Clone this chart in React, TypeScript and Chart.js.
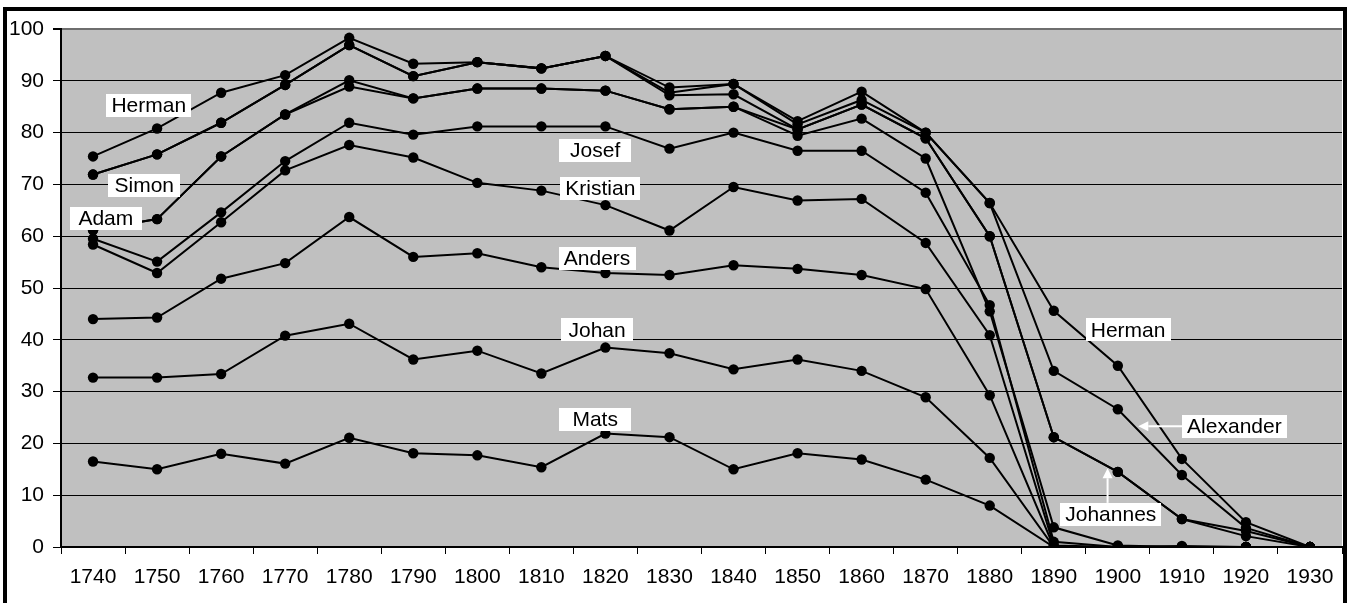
import React, { useEffect, useRef } from 'react';
import { Chart, registerables } from 'chart.js';

Chart.register(...registerables);

const FONT = '"Liberation Sans", Arial, Helvetica, sans-serif';

const years = ['1740', '1750', '1760', '1770', '1780', '1790', '1800', '1810', '1820', '1830', '1840', '1850', '1860', '1870', '1880', '1890', '1900', '1910', '1920', '1930'];

const herman = [75.4, 80.8, 87.7, 91.1, 98.3, 93.3, 93.6, 92.4, 94.8, 88.7, 89.4, 82.2, 87.9, 80.0, 66.4, 45.6, 35.0, 17.0, 4.8, 0];
const alexander = [71.9, 75.8, 81.9, 89.2, 96.9, 90.9, 93.6, 92.4, 94.8, 87.7, 89.4, 81.6, 86.3, 80.0, 66.4, 34.0, 26.6, 13.9, 3.7, 0];
const simon = [71.9, 75.8, 81.9, 89.2, 96.9, 90.9, 93.6, 92.4, 94.8, 87.2, 87.4, 80.6, 85.4, 78.9, 60.0, 21.2, 14.5, 5.4, 2.1, 0];
const johannes = [61.2, 63.3, 75.4, 83.5, 90.1, 86.6, 88.5, 88.5, 88.1, 84.5, 85.0, 80.6, 85.4, 78.9, 60.0, 21.2, 14.5, 5.4, 3.1, 0];
const adam = [61.2, 63.3, 75.4, 83.5, 88.9, 86.6, 88.5, 88.5, 88.1, 84.5, 85.0, 79.4, 82.7, 75.0, 45.5, 3.8, 0.3, 0, 0, 0];
const josef = [59.5, 55.1, 64.6, 74.5, 81.9, 79.6, 81.2, 81.2, 81.2, 76.9, 80.0, 76.5, 76.5, 68.4, 46.7, 1.0, 0, 0.2, 0, 0];
const kristian = [58.4, 52.9, 62.7, 72.7, 77.6, 75.2, 70.3, 68.8, 66.0, 61.1, 69.5, 66.9, 67.2, 58.7, 40.9, 0.3, 0, 0, 0, 0];
const anders = [44.0, 44.3, 51.8, 54.8, 63.7, 56.0, 56.7, 54.0, 52.9, 52.5, 54.4, 53.7, 52.5, 49.8, 29.3, 0, 0, 0, 0, 0];
const johan = [32.7, 32.7, 33.4, 40.8, 43.1, 36.2, 37.9, 33.5, 38.5, 37.4, 34.3, 36.2, 34.0, 28.9, 17.2, 0, 0, 0, 0, 0];
const mats = [16.5, 15.0, 18.0, 16.1, 21.1, 18.1, 17.7, 15.4, 21.9, 21.2, 15.0, 18.1, 16.9, 13.0, 8.0, 0, 0, 0, 0, 0];

const seriesNames = ['Herman', 'Alexander', 'Simon', 'Johannes', 'Adam', 'Josef', 'Kristian', 'Anders', 'Johan', 'Mats'];
const seriesValues = [herman, alexander, simon, johannes, adam, josef, kristian, anders, johan, mats];

// Label annotations: text, category index position, value position
const labelTexts = ['Herman', 'Simon', 'Adam', 'Josef', 'Kristian', 'Anders', 'Johan', 'Mats', 'Herman', 'Alexander', 'Johannes'];
const labelIdx = [0.87, 0.80, 0.20, 7.84, 7.92, 7.87, 7.87, 7.84, 16.16, 17.82, 15.89];
const labelVal = [85.3, 69.8, 63.5, 76.6, 69.3, 55.7, 41.9, 24.7, 41.9, 23.3, 6.3];

// Arrows: from label (index in label list) to tip at (index, value)
const arrowFrom = [9, 10];
const arrowTipIdx = [16.32, 15.84];
const arrowTipVal = [23.3, 15.2];

const plotBg = {
  id: 'plotBg',
  beforeDraw(chart: any) {
    const { ctx, chartArea: a } = chart;
    ctx.save();
    ctx.fillStyle = '#C0C0C0';
    ctx.fillRect(a.left, a.top, a.right - a.left, a.bottom - a.top);
    ctx.restore();
  },
};

const labelsPlugin = {
  id: 'labelsPlugin',
  afterDatasetsDraw(chart: any) {
    const { ctx } = chart;
    const xs = chart.scales.x;
    const ys = chart.scales.y;
    ctx.save();
    ctx.font = `21px ${FONT}`;
    ctx.textAlign = 'center';
    ctx.textBaseline = 'middle';
    const boxes: any[] = [];
    labelTexts.forEach((t, i) => {
      const cx = xs.getPixelForValue(labelIdx[i]);
      const cy = ys.getPixelForValue(labelVal[i]);
      const w = Math.max(72, ctx.measureText(t).width + 10);
      const h = 23;
      ctx.fillStyle = '#FFFFFF';
      ctx.fillRect(Math.round(cx - w / 2), Math.round(cy - h / 2), Math.round(w), h);
      ctx.fillStyle = '#000000';
      ctx.fillText(t, cx, cy + 1);
      boxes.push({ cx, cy, w, h });
    });
    // arrows
    ctx.strokeStyle = '#FFFFFF';
    ctx.fillStyle = '#FFFFFF';
    ctx.lineWidth = 2;
    arrowFrom.forEach((bi, k) => {
      const b = boxes[bi];
      const tx = xs.getPixelForValue(arrowTipIdx[k]);
      const ty = ys.getPixelForValue(arrowTipVal[k]);
      let sx, sy;
      if (Math.abs(ty - b.cy) < 5) {
        sx = b.cx - b.w / 2;
        sy = ty;
      } else {
        sx = tx;
        sy = b.cy - b.h / 2;
      }
      const ang = Math.atan2(ty - sy, tx - sx);
      const L = 10, W = 5;
      const bx = tx - L * Math.cos(ang);
      const by = ty - L * Math.sin(ang);
      ctx.beginPath();
      ctx.moveTo(sx, sy);
      ctx.lineTo(bx, by);
      ctx.stroke();
      ctx.beginPath();
      ctx.moveTo(tx, ty);
      ctx.lineTo(bx + W * Math.sin(ang), by - W * Math.cos(ang));
      ctx.lineTo(bx - W * Math.sin(ang), by + W * Math.cos(ang));
      ctx.closePath();
      ctx.fill();
    });
    ctx.restore();
  },
};

export default function App() {
  const ref = useRef<HTMLCanvasElement | null>(null);
  useEffect(() => {
    if (!ref.current) return;
    const chart = new Chart(ref.current, {
      type: 'line',
      data: {
        labels: years,
        datasets: seriesNames.map((n, i) => ({
          label: n,
          data: seriesValues[i],
          borderColor: '#000000',
          backgroundColor: '#000000',
          borderWidth: 2,
          pointRadius: 5.2,
          pointBorderWidth: 0,
          pointBackgroundColor: '#000000',
          tension: 0,
          fill: false,
        })),
      },
      options: {
        animation: false,
        responsive: false,
        devicePixelRatio: 1,
        layout: { padding: { left: 0, top: 29, right: 9, bottom: 0 } },
        plugins: {
          legend: { display: false },
          tooltip: { enabled: false },
          title: { display: false },
        },
        scales: {
          x: {
            type: 'category',
            offset: true,
            grid: {
              offset: true,
              drawOnChartArea: false,
              drawTicks: true,
              tickLength: 7,
              tickColor: '#000000',
              tickWidth: 1,
            },
            border: { display: true, color: '#000000', width: 2 },
            ticks: {
              color: '#000000',
              font: { family: FONT, size: 21 },
              padding: 11,
              maxRotation: 0,
              autoSkip: false,
            },
            afterFit(scale: any) {
              scale.height = 56;
            },
          },
          y: {
            min: 0,
            max: 100,
            grid: {
              color: (c: any) => (c.tick && c.tick.value === 100 ? '#6E6E6E' : '#000000'),
              lineWidth: (c: any) => (c.tick && c.tick.value === 100 ? 2 : 1),
              tickColor: '#000000',
              tickLength: 8,
              drawTicks: true,
            },
            border: { display: true, color: '#000000', width: 2 },
            ticks: {
              stepSize: 10,
              color: '#000000',
              font: { family: FONT, size: 21 },
              padding: 9,
            },
            afterFit(scale: any) {
              scale.width = 61;
            },
          },
        },
      },
      plugins: [plotBg, labelsPlugin],
    });
    return () => chart.destroy();
  }, []);

  return (
    <div style={{ position: 'fixed', left: 0, top: 0, width: 1351, height: 603, overflow: 'hidden', background: '#FFFFFF' }}>
      <div
        style={{
          position: 'absolute',
          left: 3,
          top: 7,
          width: 1344,
          height: 700,
          border: '4px solid #000000',
          boxSizing: 'border-box',
          background: '#FFFFFF',
        }}
      />
      <canvas
        ref={ref}
        width={1351}
        height={603}
        style={{ position: 'absolute', left: 0, top: 0, width: 1351, height: 603 }}
      />
    </div>
  );
}
